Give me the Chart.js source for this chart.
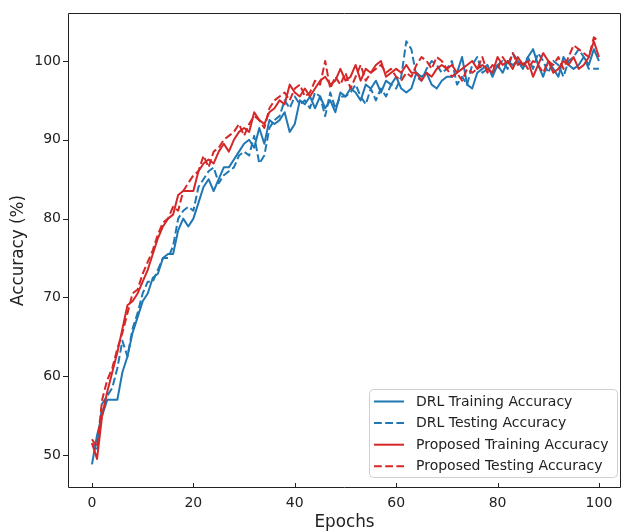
<!DOCTYPE html>
<html>
<head>
<meta charset="utf-8">
<script src="https://cdn.jsdelivr.net/npm/chart.js@4"></script>
<style>
    html, body { margin: 0; padding: 0; background: #fff; }
    #wrap { width: 622px; height: 531px; }
</style>
</head>
<body>
<div id="wrap"><canvas id="accuracyChart" width="622" height="531"></canvas></div>
<script>
// Accuracy per epoch (0..100) for each model
const drlTrain = [
    48.8, 52.5, 55.0, 57.0, 57.0, 57.0, 60.5, 62.5, 65.5, 67.5,
    69.5, 70.5, 72.5, 73.0, 75.0, 75.5, 75.5, 78.5, 80.0, 79.0,
    80.0, 82.0, 84.0, 85.0, 83.5, 85.0, 86.5, 86.5, 87.5, 88.5,
    89.5, 90.0, 89.0, 91.5, 89.5, 92.5, 92.0, 92.5, 93.5, 91.0,
    92.0, 95.0, 94.5, 95.5, 94.0, 95.5, 94.0, 95.0, 93.5, 96.0,
    95.5, 96.5, 96.0, 95.0, 97.0, 96.5, 97.5, 96.0, 97.5, 97.0,
    98.0, 96.5, 96.0, 96.5, 98.5, 98.0, 98.5, 97.0, 96.5, 97.5,
    98.0, 98.0, 98.5, 100.5, 97.0, 96.5, 98.5, 99.0, 99.5, 98.0,
    99.5, 98.5, 100.0, 99.5, 100.0, 99.0, 100.5, 101.5, 99.5, 98.0,
    100.0, 99.0, 98.0, 100.5, 99.5, 99.0, 99.5, 100.5, 99.5, 101.5,
    100.0
];
const drlTest = [
    51.5, 50.5, 56.5, 57.5, 58.5, 61.0, 64.5, 62.5, 66.0, 68.0,
    70.5, 72.0, 72.0, 73.5, 75.0, 75.0, 76.5, 80.0, 81.0, 81.5,
    81.0, 84.0, 85.0, 86.0, 86.5, 84.5, 85.5, 86.0, 86.5, 88.0,
    88.5, 88.0, 90.5, 87.0, 88.0, 91.5, 92.5, 93.0, 95.0, 94.0,
    95.5, 94.5, 95.0, 94.0, 96.0, 95.5, 93.0, 96.0, 94.0, 95.5,
    95.5, 96.0, 97.0, 95.5, 94.5, 96.5, 95.0, 96.5, 95.5, 97.0,
    96.5, 98.0, 102.5, 101.5, 98.0, 97.5, 99.0, 100.0, 99.5, 98.5,
    99.0, 100.0, 97.0, 98.0, 97.0, 99.5, 100.5, 98.5, 99.0, 98.5,
    99.5, 100.0, 99.0, 101.0, 100.0, 99.5, 100.5, 99.0, 101.0, 100.0,
    98.5, 100.0, 99.5, 98.0, 100.0, 100.5, 101.5, 100.5, 99.0, 99.0,
    99.0
];
const propTrain = [
    51.5, 49.5, 55.0, 58.0, 60.5, 63.0, 66.0, 69.0, 69.5, 70.5,
    72.0, 73.5, 75.5, 77.5, 79.0, 80.0, 80.5, 83.0, 83.5, 83.5,
    83.5, 86.0, 87.0, 87.5, 87.0, 88.5, 89.5, 88.5, 90.0, 91.0,
    91.5, 91.0, 93.5, 92.5, 92.0, 93.5, 94.0, 95.0, 94.5, 97.0,
    96.0, 95.5, 96.5, 95.5, 96.5, 97.5, 98.0, 97.0, 97.5, 99.0,
    97.5, 98.0, 99.5, 97.5, 99.0, 98.5, 99.5, 100.0, 98.0, 98.5,
    99.0, 98.5, 99.5, 98.5, 98.5, 97.5, 98.5, 98.0, 99.0, 99.5,
    99.0, 99.5, 98.5, 99.0, 99.5, 100.0, 99.0, 99.5, 99.0, 98.5,
    100.5, 99.5, 100.0, 99.0, 100.5, 99.5, 100.0, 98.0, 99.5, 101.0,
    100.0, 98.5, 99.0, 100.0, 99.5, 100.5, 99.0, 99.5, 100.5, 102.5,
    100.5
];
const propTest = [
    52.0, 51.0, 57.0, 59.5, 61.0, 63.5, 65.5, 68.0, 70.5, 71.0,
    73.0, 74.5, 76.0, 78.0, 79.5, 80.0, 81.5, 81.0, 83.5, 84.5,
    85.5, 86.0, 88.0, 86.5, 88.5, 89.0, 90.0, 90.5, 91.0, 92.0,
    90.5, 92.0, 93.0, 92.5, 91.5, 94.0, 95.0, 95.5, 96.0, 95.0,
    96.5, 97.0, 95.5, 96.0, 97.5, 97.0, 100.0, 96.5, 98.0, 97.0,
    98.5, 96.5, 98.0, 99.5, 97.5, 98.5, 99.0, 99.5, 98.5, 99.0,
    98.0, 97.5, 98.5, 98.0, 99.5, 100.5, 100.0, 99.0, 100.5, 100.0,
    99.0, 98.0, 98.5, 97.5, 99.0, 98.5, 99.0, 100.5, 98.5, 99.5,
    99.0, 100.5, 99.5, 101.0, 99.5, 100.0, 99.0, 100.0, 99.5, 98.5,
    100.0, 99.5, 100.5, 99.0, 100.5, 102.0, 101.5, 101.0, 100.5, 103.0,
    102.5
];

const seriesNames = [
    'DRL Training Accuracy',
    'DRL Testing Accuracy',
    'Proposed Training Accuracy',
    'Proposed Testing Accuracy'
];
const xTicks = [0, 20, 40, 60, 80, 100];
const yTicks = [50, 60, 70, 80, 90, 100];

const BLUE = '#1f77b4';
const RED = '#d62728';
const DASH = [7.8, 3.4];
const FONT = 'DejaVu Sans, sans-serif';
const INK = '#222';

const toPoints = arr => arr.map((v, i) => ({ x: i, y: v }));

// box around the plot, tick marks and an in-plot legend
const framePlugin = {
    id: 'frame',
    afterDraw(chart) {
        const { ctx, chartArea: a, scales } = chart;
        ctx.save();
        ctx.strokeStyle = INK;
        ctx.lineWidth = 1;
        ctx.beginPath();
        ctx.rect(a.left + 0.5, a.top + 0.5, a.right - a.left - 1, a.bottom - a.top - 1);
        xTicks.forEach(v => {
            const px = Math.round(scales.x.getPixelForValue(v)) + 0.5;
            ctx.moveTo(px, a.bottom);
            ctx.lineTo(px, a.bottom - 5);
        });
        yTicks.forEach(v => {
            const py = Math.round(scales.y.getPixelForValue(v)) + 0.5;
            ctx.moveTo(a.left - 5, py);
            ctx.lineTo(a.left, py);
        });
        ctx.stroke();

        // legend
        const lx = 369.5, ly = 389.5, lw = 248, lh = 88;
        ctx.beginPath();
        ctx.roundRect(lx, ly, lw, lh, 4);
        ctx.fillStyle = 'rgba(255,255,255,0.8)';
        ctx.fill();
        ctx.strokeStyle = '#d0d0d0';
        ctx.stroke();

        ctx.font = '14px ' + FONT;
        ctx.textBaseline = 'middle';
        ctx.textAlign = 'left';
        chart.data.datasets.forEach((ds, i) => {
            const y = 401.5 + i * 21.6;
            ctx.beginPath();
            ctx.strokeStyle = ds.borderColor;
            ctx.lineWidth = ds.borderWidth;
            ctx.setLineDash(ds.borderDash || []);
            ctx.moveTo(374, y);
            ctx.lineTo(404, y);
            ctx.stroke();
            ctx.setLineDash([]);
            ctx.fillStyle = INK;
            ctx.fillText(ds.label, 416, y + 0.5);
        });
        ctx.restore();
    }
};

document.addEventListener('DOMContentLoaded', () => {
    const ctx = document.getElementById('accuracyChart');
    const makeSet = (label, data, color, dashed, order) => ({
        label,
        data: toPoints(data),
        borderColor: color,
        backgroundColor: color,
        borderWidth: 2,
        borderDash: dashed ? DASH : [],
        borderJoinStyle: 'round',
        pointRadius: 0,
        tension: 0,
        fill: false,
        order
    });

    new Chart(ctx, {
        type: 'line',
        data: {
            datasets: [
                makeSet(seriesNames[0], drlTrain, BLUE, false, 4),
                makeSet(seriesNames[1], drlTest, BLUE, true, 3),
                makeSet(seriesNames[2], propTrain, RED, false, 2),
                makeSet(seriesNames[3], propTest, RED, true, 1)
            ]
        },
        options: {
            responsive: false,
            animation: false,
            devicePixelRatio: 1,
            layout: { padding: { top: 13, right: 1, left: 0, bottom: 0 } },
            plugins: {
                legend: { display: false },
                tooltip: { enabled: false }
            },
            scales: {
                x: {
                    type: 'linear',
                    min: -4.73,
                    max: 104.35,
                    afterBuildTicks: s => { s.ticks = xTicks.map(v => ({ value: v })); },
                    afterFit: s => { s.height = 43; s.paddingLeft = 0; s.paddingRight = 0; },
                    grid: { display: false, drawTicks: false },
                    border: { display: false },
                    ticks: {
                        padding: 7,
                        maxRotation: 0,
                        color: INK,
                        font: { family: FONT, size: 14 }
                    },
                    title: {
                        display: true,
                        text: 'Epochs',
                        color: INK,
                        font: { family: FONT, size: 16.8 },
                        padding: { top: 0, bottom: -2 }
                    }
                },
                y: {
                    type: 'linear',
                    min: 45.81,
                    max: 106.09,
                    afterBuildTicks: s => { s.ticks = yTicks.map(v => ({ value: v })); },
                    afterFit: s => { s.width = 68; s.paddingTop = 0; s.paddingBottom = 0; },
                    grid: { display: false, drawTicks: false },
                    border: { display: false },
                    ticks: {
                        padding: 7,
                        color: INK,
                        font: { family: FONT, size: 14 }
                    },
                    title: {
                        display: true,
                        text: 'Accuracy (%)',
                        color: INK,
                        font: { family: FONT, size: 16.8 },
                        padding: { top: 9, bottom: 0 }
                    }
                }
            }
        },
        plugins: [framePlugin]
    });
});
</script>
</body>
</html>
